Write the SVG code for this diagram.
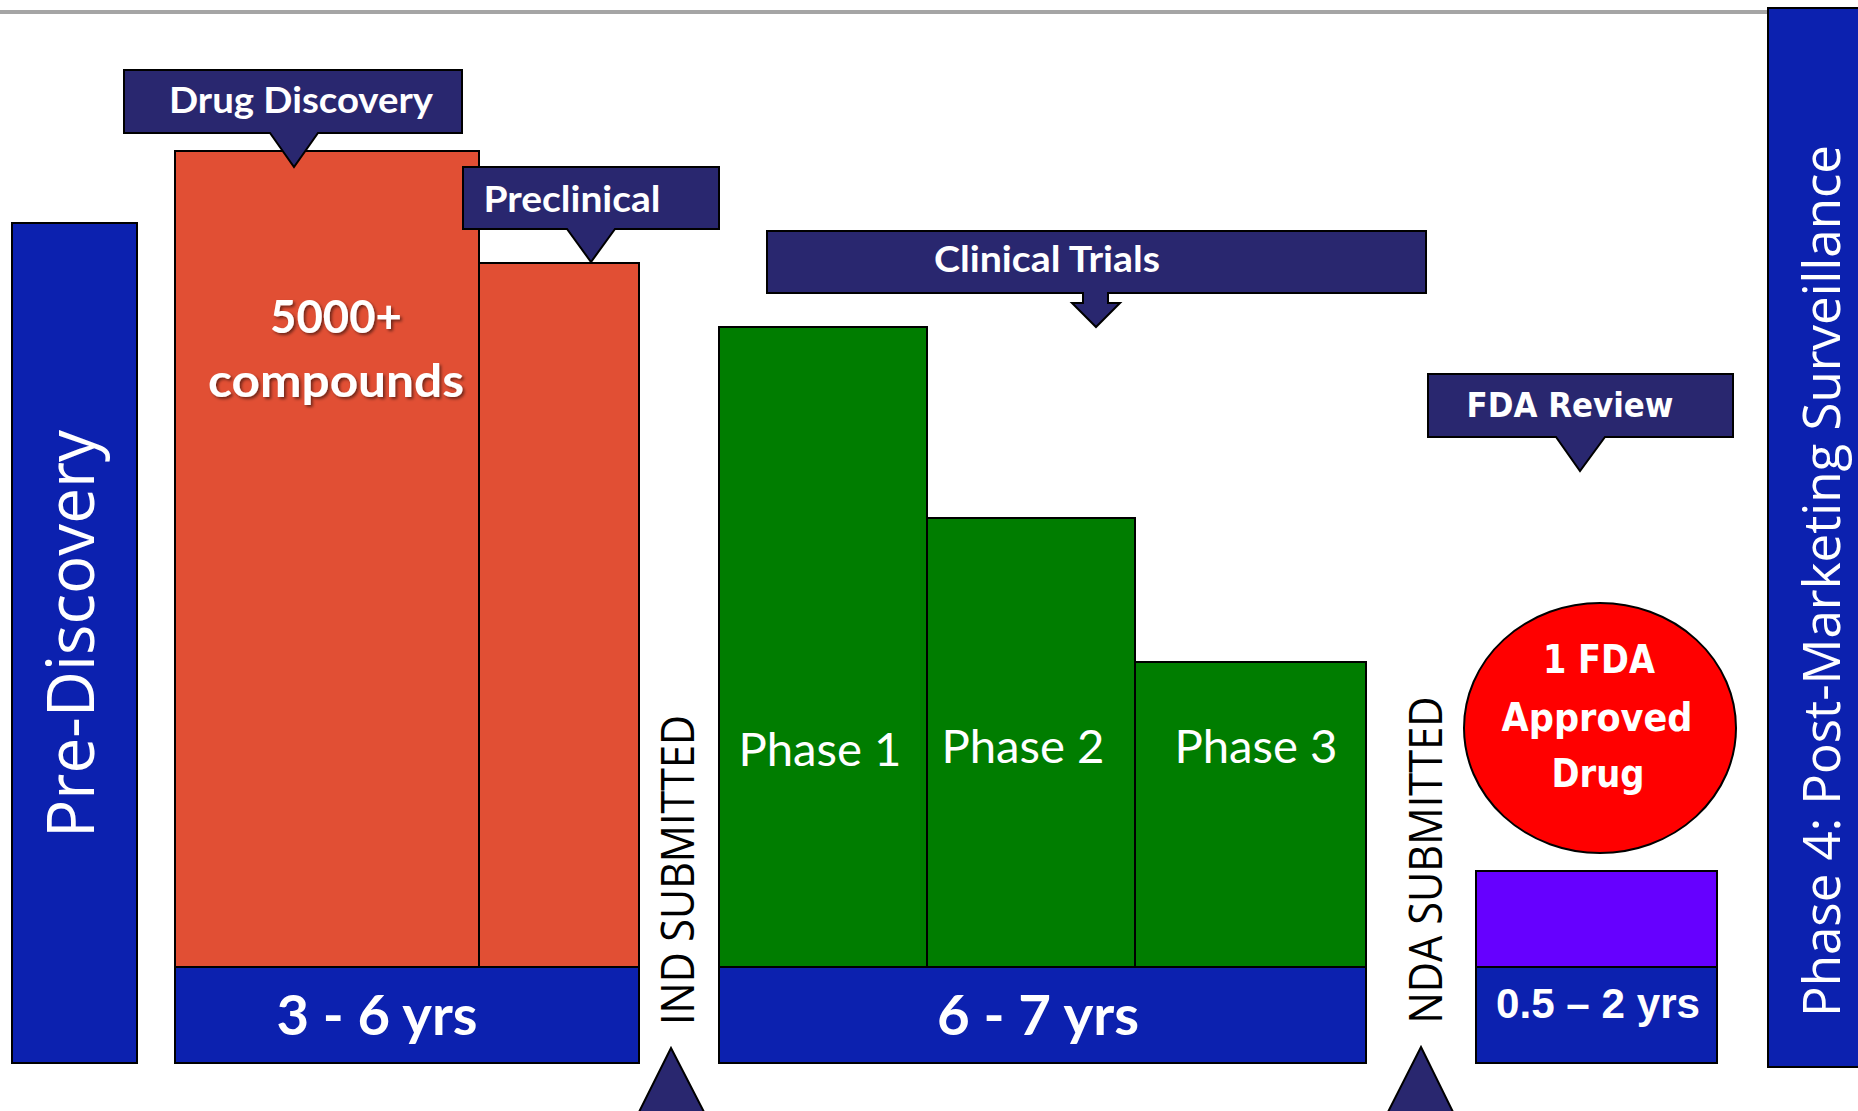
<svg xmlns="http://www.w3.org/2000/svg" width="1858" height="1111" viewBox="0 0 1858 1111">
<defs>
<style>
.box{stroke:#000;stroke-width:2}
.navy{fill:#29276F}
.blue{fill:#0C21AF}
.orange{fill:#E14F34}
.green{fill:#007D00}
.cal{font-family:Lato,"Open Sans",sans-serif;fill:#fff}
.calb{font-family:Lato,"Open Sans",sans-serif;font-weight:bold;fill:#fff}
.seg{font-family:"Open Sans","DejaVu Sans",sans-serif}
.tah{font-family:"DejaVu Sans",Verdana,sans-serif;font-weight:bold;fill:#fff}
</style>
<filter id="sh" x="-10%" y="-20%" width="130%" height="150%">
<feDropShadow dx="2" dy="2" stdDeviation="1.5" flood-color="#000" flood-opacity="0.5"/>
</filter>
</defs>
<rect width="1858" height="1111" fill="#fff"/>
<rect x="0" y="10" width="1768" height="4" fill="#A5A5A5"/>

<g id="pre-discovery">
<rect class="box blue" x="12" y="223" width="125" height="840"/>
<text class="seg" transform="translate(94,634) rotate(-90)" text-anchor="middle" font-size="66" fill="#fff" textLength="408" lengthAdjust="spacingAndGlyphs">Pre-Discovery</text>
</g>

<g id="drug-discovery-bar">
<rect class="box orange" x="175" y="151" width="304" height="816"/>
<text class="calb" filter="url(#sh)" x="336" y="333" text-anchor="middle" font-size="46" textLength="132" lengthAdjust="spacingAndGlyphs">5000+</text>
<text class="calb" filter="url(#sh)" x="336" y="397" text-anchor="middle" font-size="46" textLength="256" lengthAdjust="spacingAndGlyphs">compounds</text>
</g>

<g id="preclinical-bar">
<rect class="box orange" x="479" y="263" width="160" height="704"/>
</g>

<g id="duration-3-6">
<rect class="box blue" x="175" y="967" width="464" height="96"/>
<text class="calb" x="377" y="1035" text-anchor="middle" font-size="56" textLength="201" lengthAdjust="spacingAndGlyphs">3 - 6 yrs</text>
</g>

<g id="drug-discovery-label">
<path class="box navy" d="M124,70 H462 V133 H318 L294,167 L270,133 H124 Z"/>
<text class="calb" x="301" y="113" text-anchor="middle" font-size="36" textLength="264" lengthAdjust="spacingAndGlyphs">Drug Discovery</text>
</g>

<g id="preclinical-label">
<path class="box navy" d="M463,167 H719 V229 H615 L591,262 L567,229 H463 Z"/>
<text class="calb" x="572" y="212" text-anchor="middle" font-size="37" textLength="177" lengthAdjust="spacingAndGlyphs">Preclinical</text>
</g>

<g id="ind-submitted">
<text class="seg" transform="translate(694,870) rotate(-90)" text-anchor="middle" font-size="45" fill="#000" textLength="310" lengthAdjust="spacingAndGlyphs">IND SUBMITTED</text>
</g>

<g id="phase-1">
<rect class="box green" x="719" y="327" width="208" height="640"/>
<text class="cal" x="820" y="766" text-anchor="middle" font-size="46" textLength="163" lengthAdjust="spacingAndGlyphs">Phase 1</text>
</g>
<g id="phase-2">
<rect class="box green" x="927" y="518" width="208" height="449"/>
<text class="cal" x="1023" y="763" text-anchor="middle" font-size="46" textLength="163" lengthAdjust="spacingAndGlyphs">Phase 2</text>
</g>
<g id="phase-3">
<rect class="box green" x="1135" y="662" width="231" height="305"/>
<text class="cal" x="1256" y="763" text-anchor="middle" font-size="46" textLength="163" lengthAdjust="spacingAndGlyphs">Phase 3</text>
</g>

<g id="duration-6-7">
<rect class="box blue" x="719" y="967" width="647" height="96"/>
<text class="calb" x="1038" y="1035" text-anchor="middle" font-size="56" textLength="202" lengthAdjust="spacingAndGlyphs">6 - 7 yrs</text>
</g>

<g id="clinical-trials-label">
<path class="box navy" d="M767,231 H1426 V293 H1108 V303 H1120 L1096,327 L1072,303 H1083 V293 H767 Z"/>
<text class="calb" x="1047" y="272" text-anchor="middle" font-size="37" textLength="226" lengthAdjust="spacingAndGlyphs">Clinical Trials</text>
</g>

<g id="nda-submitted">
<text class="seg" transform="translate(1442,860) rotate(-90)" text-anchor="middle" font-size="45" fill="#000" textLength="327" lengthAdjust="spacingAndGlyphs">NDA SUBMITTED</text>
</g>

<g id="fda-review-label">
<path class="box navy" d="M1428,374 H1733 V437 H1605 L1580,471 L1556,437 H1428 Z"/>
<text class="tah" x="1570" y="417" text-anchor="middle" font-size="34" textLength="207" lengthAdjust="spacingAndGlyphs">FDA Review</text>
</g>

<g id="approved-drug">
<ellipse class="box" cx="1600" cy="728" rx="136" ry="125" fill="#FF0000"/>
<text class="tah" x="1599" y="673" text-anchor="middle" font-size="39" textLength="112" lengthAdjust="spacingAndGlyphs">1 FDA</text>
<text class="tah" x="1597" y="731" text-anchor="middle" font-size="39" textLength="191" lengthAdjust="spacingAndGlyphs">Approved</text>
<text class="tah" x="1598" y="787" text-anchor="middle" font-size="39" textLength="93" lengthAdjust="spacingAndGlyphs">Drug</text>
</g>

<g id="fda-review-bar">
<rect class="box" x="1476" y="871" width="241" height="96" fill="#6600FF"/>
</g>

<g id="duration-05-2">
<rect class="box blue" x="1476" y="967" width="241" height="96"/>
<text x="1598" y="1018" text-anchor="middle" font-family="'Liberation Sans',Arial,sans-serif" font-weight="bold" font-size="42" fill="#fff" textLength="204" lengthAdjust="spacingAndGlyphs">0.5 – 2 yrs</text>
</g>

<g id="phase-4">
<rect class="box blue" x="1768" y="8" width="100" height="1059"/>
<text class="seg" transform="translate(1840,581) rotate(-90)" text-anchor="middle" font-size="52" fill="#fff" textLength="872" lengthAdjust="spacingAndGlyphs">Phase 4: Post-Marketing Surveillance</text>
</g>

<g id="connectors">
<path class="box navy" d="M671,1048 L704,1112 L639,1112 Z"/>
<path class="box navy" d="M1421,1047 L1453,1112 L1388,1112 Z"/>
</g>
</svg>
